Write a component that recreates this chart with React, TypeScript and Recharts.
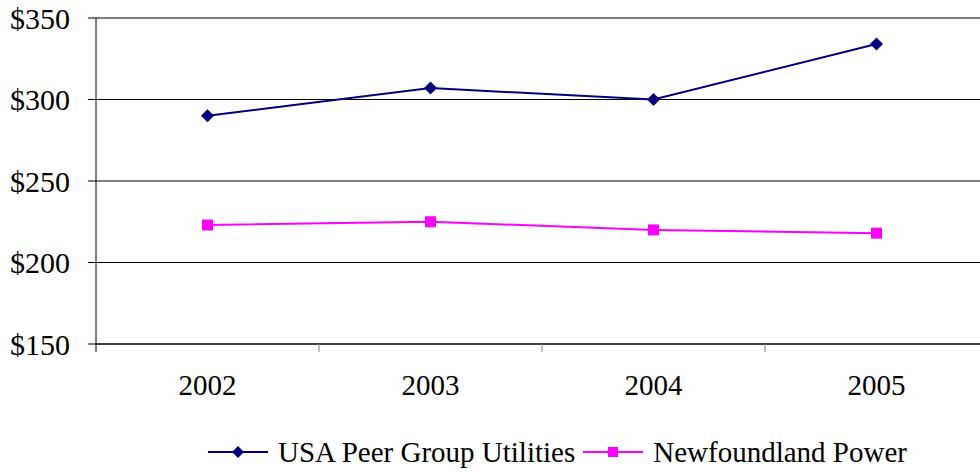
import React from 'react';
import { LineChart, Line, XAxis, YAxis, CartesianGrid, Legend } from 'recharts';

// values
const years = ['2002', '2003', '2004', '2005'];
const usaPeer = [290, 307, 300, 334];
const newfoundland = [223, 225, 220, 218];
const yTicks = [150, 200, 250, 300, 350];

const chartData = years.map((year, i) => ({
  year,
  usa: usaPeer[i],
  nf: newfoundland[i],
}));

const FONT = '"Liberation Serif", "Times New Roman", serif';
const NAVY = '#000080';
const MAGENTA = '#FF00FF';

const Diamond = (props: any) => {
  const { cx, cy, size = 6.5 } = props;
  if (cx == null || cy == null) return null;
  return (
    <polygon
      points={`${cx},${cy - size} ${cx + size},${cy} ${cx},${cy + size} ${cx - size},${cy}`}
      fill={NAVY}
    />
  );
};

const Square = (props: any) => {
  const { cx, cy, size = 5.5 } = props;
  if (cx == null || cy == null) return null;
  return <rect x={cx - size} y={cy - size} width={size * 2} height={size * 2} fill={MAGENTA} />;
};

// year label at band centre, tick marks on the band edges
const YearTick = (props: any) => {
  const { x, y, payload, index, width, visibleTicksCount } = props;
  const half = payload?.offset || width / visibleTicksCount / 2;
  return (
    <g>
      {index === 0 && <line x1={x - half} x2={x - half} y1={y} y2={y + 8} stroke="#000" />}
      <line x1={x + half} x2={x + half} y1={y} y2={y + 8} stroke="#808080" />
      <text x={x} y={y + 51} textAnchor="middle" fontFamily={FONT} fontSize={29} fill="#000">
        {payload.value}
      </text>
    </g>
  );
};

const LegendItem = ({ label, color, square }: { label: string; color: string; square?: boolean }) => (
  <div style={{ display: 'flex', alignItems: 'center' }}>
    <svg width={60} height={20} style={{ marginRight: 10 }}>
      <line x1={0} x2={60} y1={10} y2={10} stroke={color} strokeWidth={2} />
      {square ? <Square cx={30} cy={10} size={5} /> : <Diamond cx={30} cy={10} size={6} />}
    </svg>
    <span>{label}</span>
  </div>
);

const LegendContent = () => (
  <div
    style={{
      display: 'flex',
      alignItems: 'center',
      paddingLeft: 208,
      fontFamily: FONT,
      fontSize: 29,
      color: '#000',
      gap: 8,
      lineHeight: '40px',
    }}
  >
    <LegendItem label="USA Peer Group Utilities" color={NAVY} />
    <LegendItem label="Newfoundland Power" color={MAGENTA} square />
  </div>
);

export default function App() {
  return (
    <div style={{ position: 'absolute', left: 0, top: 0, width: 980, height: 472, overflow: 'hidden', background: '#fff' }}>
      <LineChart
        width={990}
        height={472}
        data={chartData}
        margin={{ top: 18, right: 2, left: 0, bottom: 0 }}
      >
        <CartesianGrid vertical={false} stroke="#000" strokeWidth={1} />
        <XAxis
          dataKey="year"
          scale="band"
          height={88}
          stroke="#000"
          tickLine={false}
          tickSize={0}
          tickMargin={0}
          tick={<YearTick />}
          interval={0}
        />
        <YAxis
          domain={[150, 350]}
          ticks={yTicks}
          width={96}
          stroke="#000"
          tickSize={8}
          tickMargin={18}
          tickFormatter={(v: number) => `$${v}`}
          tick={{ fill: '#000', fontSize: 30, fontFamily: FONT }}
          allowDataOverflow
        />
        <Legend
          verticalAlign="bottom"
          height={40}
          content={<LegendContent />}
          wrapperStyle={{ left: 0, bottom: 0, width: 980, height: 40 }}
        />
        <Line
          dataKey="usa"
          name="USA Peer Group Utilities"
          stroke={NAVY}
          strokeWidth={2}
          dot={<Diamond />}
          activeDot={false}
          isAnimationActive={false}
        />
        <Line
          dataKey="nf"
          name="Newfoundland Power"
          stroke={MAGENTA}
          strokeWidth={2}
          dot={<Square />}
          activeDot={false}
          isAnimationActive={false}
        />
      </LineChart>
    </div>
  );
}
